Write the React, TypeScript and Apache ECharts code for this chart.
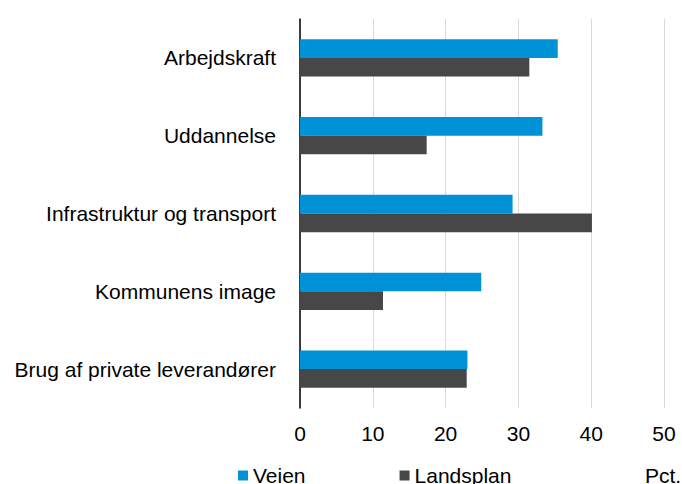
import React, { useEffect, useRef } from "react";
import * as echarts from "echarts";

const categories = [
  "Arbejdskraft",
  "Uddannelse",
  "Infrastruktur og transport",
  "Kommunens image",
  "Brug af private leverandører",
];
const veien = [35.4, 33.3, 29.2, 24.9, 23.0];
const landsplan = [31.5, 17.4, 40.1, 11.4, 22.9];
const xTicks = { min: 0, max: 50, interval: 10 };
const unitLabel = "Pct.";

const FONT = "Arial, 'Liberation Sans', sans-serif";
const FS = 21;

export default function App() {
  const ref = useRef<HTMLDivElement>(null);
  useEffect(() => {
    document.body.style.margin = "0";
    const chart = echarts.init(ref.current!, null, { renderer: "svg" });
    chart.setOption({
      animation: false,
      backgroundColor: "#ffffff",
      textStyle: { fontFamily: FONT },
      grid: { left: 300, right: 18, top: 19, bottom: 76, containLabel: false },
      legend: {
        left: 238,
        top: 465,
        padding: 0,
        itemWidth: 10,
        itemHeight: 10,
        itemGap: 94,
        icon: "rect",
        textStyle: { fontSize: FS, color: "#000", fontFamily: FONT },
        data: ["Veien", "Landsplan"],
      },
      xAxis: {
        type: "value",
        min: xTicks.min,
        max: xTicks.max,
        interval: xTicks.interval,
        axisLine: { show: false },
        axisTick: { show: false },
        splitLine: { lineStyle: { color: "#d9d9d9", width: 1 } },
        axisLabel: { fontSize: FS, color: "#000", margin: 15, fontFamily: FONT },
      },
      yAxis: {
        type: "category",
        inverse: true,
        data: categories,
        axisLine: { show: true, lineStyle: { color: "#000", width: 1.5 } },
        axisTick: { show: false },
        axisLabel: { fontSize: FS, color: "#000", margin: 24, fontFamily: FONT },
      },
      series: [
        {
          name: "Veien",
          type: "bar",
          data: veien,
          itemStyle: { color: "#0092D6" },
          barGap: "0%",
          barCategoryGap: "52%",
        },
        {
          name: "Landsplan",
          type: "bar",
          data: landsplan,
          itemStyle: { color: "#474747" },
          barGap: "0%",
          barCategoryGap: "52%",
        },
      ],
      graphic: [
        {
          type: "text",
          left: 645,
          top: 465,
          style: { text: unitLabel, fontSize: FS, fill: "#000", fontFamily: FONT },
        },
      ],
    });
    return () => chart.dispose();
  }, []);
  return (
    <div
      ref={ref}
      style={{ position: "absolute", left: 0, top: 0, width: 682, height: 484 }}
    />
  );
}
